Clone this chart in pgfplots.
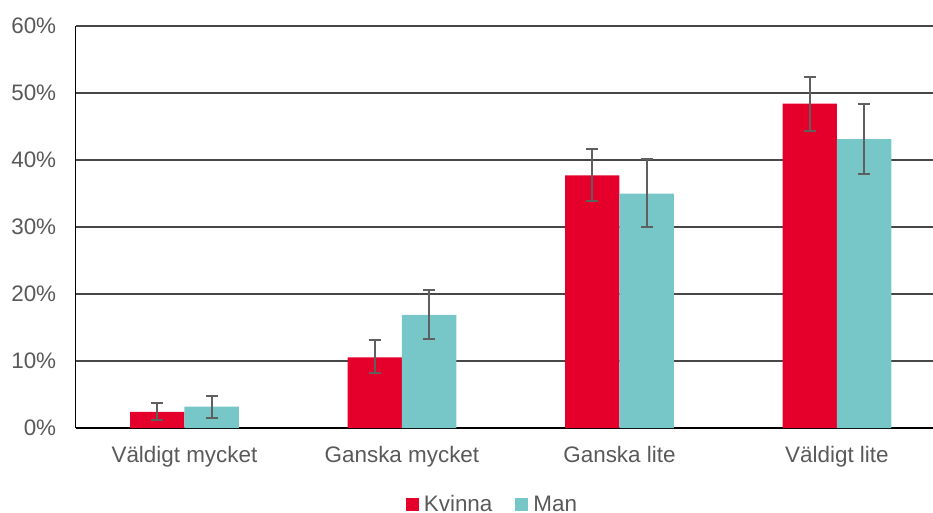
\documentclass[border=0pt]{standalone}
\usepackage{pgfplots}
\pgfplotsset{compat=1.18}
\usepackage{fontspec}
\setmainfont{Liberation Sans}
\definecolor{kvinna}{HTML}{E4002B}
\definecolor{man}{HTML}{77C6C8}
\definecolor{txt}{HTML}{595959}
\definecolor{errc}{HTML}{5F5F5F}
\begin{document}
\begin{tikzpicture}
\begin{axis}[
    at={(0,0)}, anchor=south west,
    scale only axis,
    width=870bp, height=402bp,
    ybar=0pt,
    bar width=0.25,
    xmin=-0.5, xmax=3.5,
    ymin=0, ymax=60,
    xtick={0,1,2,3},
    xticklabels={Väldigt mycket,Ganska mycket,Ganska lite,Väldigt lite},
    ytick={0,10,...,60},
    yticklabel={\pgfmathprintnumber{\tick}\%},
    /pgf/number format/assume math mode=true,
    axis x line*=bottom,
    axis y line*=left,
    major tick length=0pt,
    ymajorgrids,
    grid style={black!72, line width=1.3bp},
    axis line style={black, line width=1.3bp},
    tick label style={font=\fontsize{22.5}{26}\selectfont, text=txt},
    yticklabel style={xshift=-16bp},
    xticklabel style={yshift=-15bp},
    legend columns=2,
    legend style={draw=none, fill=none, at={(0.479,-0.19)}, anchor=center,
        font=\fontsize{22.5}{26}\selectfont, text=txt,
        /tikz/every even column/.append style={column sep=21bp},
        /tikz/every odd column/.append style={column sep=3bp}},
    legend image code/.code={\fill[#1] (0bp,-6.5bp) rectangle (13bp,6.5bp);},
    error bars/y dir=both,
    error bars/y explicit,
    error bars/error bar style={errc, line width=2bp},
    error bars/error mark options={errc, rotate=90, mark size=6bp, line width=2bp},
]
\addplot[fill=kvinna, draw=none] coordinates {
    (0,2.4)   += (0,1.3) -= (0,1.2)
    (1,10.55) += (0,2.55) -= (0,2.35)
    (2,37.7)  += (0,4.0) -= (0,3.8)
    (3,48.4)  += (0,4.0) -= (0,4.0)
};
\addplot[fill=man, draw=none] coordinates {
    (0,3.2)   += (0,1.6) -= (0,1.7)
    (1,16.9)  += (0,3.7) -= (0,3.6)
    (2,35.0)  += (0,5.1) -= (0,5.0)
    (3,43.1)  += (0,5.3) -= (0,5.2)
};
\legend{Kvinna,Man}
\end{axis}
\pgfresetboundingbox
\path[use as bounding box] (-75.7bp,-85bp) rectangle (857.3bp,428bp);
\end{tikzpicture}
\end{document}
